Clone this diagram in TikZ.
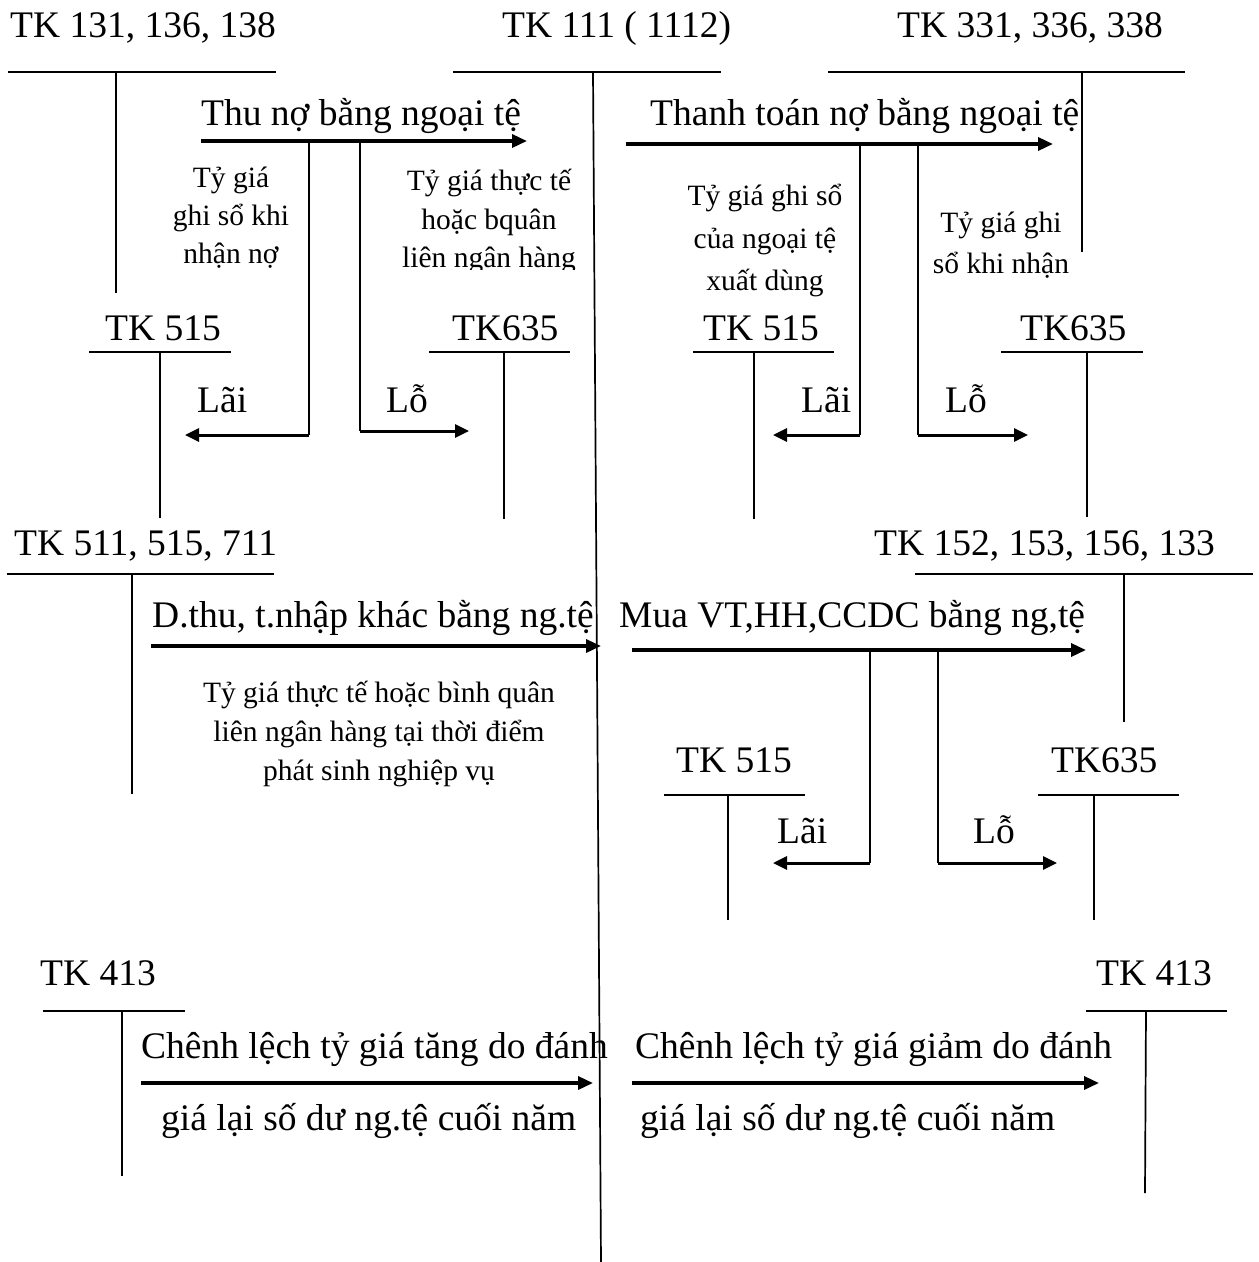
\documentclass[tikz,border=0pt]{standalone}
\usepackage{fontspec}
\setmainfont{Liberation Serif}
\usetikzlibrary{arrows.meta}
\begin{document}
\begin{tikzpicture}[x=1pt,y=-1pt,
  big/.style={font=\fontsize{37.5}{45}\selectfont, inner sep=0pt, anchor=base west},
  note/.style={font=\fontsize{29.5}{35}\selectfont, inner sep=0pt, anchor=base},
  tline/.style={line width=1.7pt},
  flow/.style={line width=3.4pt, -{Triangle[length=15pt,width=13pt]}},
  branch/.style={line width=1.9pt},
  sideflow/.style={line width=3pt, -{Triangle[length=14pt,width=13pt]}},
]
\useasboundingbox[fill=white] (0,0) rectangle (1259,1262);

% ---------- T accounts ----------
% top row
\node[big] (a1) at (10,37) {TK 131, 136, 138};
\coordinate (a1l) at (8,72); \coordinate (a1r) at (276,72);
\coordinate (a1t) at (116,72); \coordinate (a1b) at (116,293);
\draw[tline] (a1l) -- (a1r); \draw[tline] (a1t) -- (a1b);

\node[big] (a2) at (502,37) {TK 111 ( 1112)};
\coordinate (a2l) at (453,72); \coordinate (a2r) at (721,72);
\coordinate (a2t) at (593,72); \coordinate (a2b) at (601,1262);
\draw[tline] (a2l) -- (a2r); \draw[tline] (a2t) -- (a2b);

\node[big] (a3) at (897,37) {TK 331, 336, 338};
\coordinate (a3l) at (828,72); \coordinate (a3r) at (1185,72);
\coordinate (a3t) at (1082,72); \coordinate (a3b) at (1082,252);
\draw[tline] (a3l) -- (a3r); \draw[tline] (a3t) -- (a3b);

% second row
\node[big] (b1) at (105,340) {TK 515};
\coordinate (b1l) at (89,352); \coordinate (b1r) at (231,352);
\coordinate (b1t) at (160,352); \coordinate (b1b) at (160,518);
\draw[tline] (b1l) -- (b1r); \draw[tline] (b1t) -- (b1b);

\node[big] (b2) at (452,340) {TK635};
\coordinate (b2l) at (429,352); \coordinate (b2r) at (570,352);
\coordinate (b2t) at (504,352); \coordinate (b2b) at (504,519);
\draw[tline] (b2l) -- (b2r); \draw[tline] (b2t) -- (b2b);

\node[big] (b3) at (703,340) {TK 515};
\coordinate (b3l) at (693,352); \coordinate (b3r) at (834,352);
\coordinate (b3t) at (754,352); \coordinate (b3b) at (754,519);
\draw[tline] (b3l) -- (b3r); \draw[tline] (b3t) -- (b3b);

\node[big] (b4) at (1020,340) {TK635};
\coordinate (b4l) at (1001,352); \coordinate (b4r) at (1143,352);
\coordinate (b4t) at (1087,352); \coordinate (b4b) at (1087,517);
\draw[tline] (b4l) -- (b4r); \draw[tline] (b4t) -- (b4b);

% third row
\node[big] (c1) at (14,555) {TK 511, 515, 711};
\coordinate (c1l) at (7,574); \coordinate (c1r) at (274,574);
\coordinate (c1t) at (132,574); \coordinate (c1b) at (132,794);
\draw[tline] (c1l) -- (c1r); \draw[tline] (c1t) -- (c1b);

\node[big] (c2) at (874,555) {TK 152, 153, 156, 133};
\coordinate (c2l) at (915,574); \coordinate (c2r) at (1253,574);
\coordinate (c2t) at (1124,574); \coordinate (c2b) at (1124,722);
\draw[tline] (c2l) -- (c2r); \draw[tline] (c2t) -- (c2b);

% fourth row
\node[big] (d1) at (676,772) {TK 515};
\coordinate (d1l) at (664,795); \coordinate (d1r) at (805,795);
\coordinate (d1t) at (728,795); \coordinate (d1b) at (728,920);
\draw[tline] (d1l) -- (d1r); \draw[tline] (d1t) -- (d1b);

\node[big] (d2) at (1051,772) {TK635};
\coordinate (d2l) at (1038,795); \coordinate (d2r) at (1179,795);
\coordinate (d2t) at (1094,795); \coordinate (d2b) at (1094,920);
\draw[tline] (d2l) -- (d2r); \draw[tline] (d2t) -- (d2b);

% bottom row
\node[big] (e1) at (40,985) {TK 413};
\coordinate (e1l) at (43,1011); \coordinate (e1r) at (185,1011);
\coordinate (e1t) at (122,1011); \coordinate (e1b) at (122,1176);
\draw[tline] (e1l) -- (e1r); \draw[tline] (e1t) -- (e1b);

\node[big] (e2) at (1096,985) {TK 413};
\coordinate (e2l) at (1086,1011); \coordinate (e2r) at (1227,1011);
\coordinate (e2t) at (1146,1011); \coordinate (e2b) at (1145,1193);
\draw[tline] (e2l) -- (e2r); \draw[tline] (e2t) -- (e2b);

% ---------- Flow 1: Thu no ----------
\node[big] (f1) at (201,125) {Thu nợ bằng ngoại tệ};
\coordinate (f1s) at (201,141); \coordinate (f1e) at (527,141);
\draw[flow] (f1s) -- (f1e);
\coordinate (f1p) at (309,141); \coordinate (f1pc) at (309,435); \coordinate (f1pe) at (185,435);
\coordinate (f1q) at (360,141); \coordinate (f1qc) at (360,431); \coordinate (f1qe) at (469,431);
\draw[branch] (f1p) -- (f1pc); \draw[sideflow] (f1pc) -- (f1pe);
\draw[branch] (f1q) -- (f1qc); \draw[sideflow] (f1qc) -- (f1qe);
\node[note] (n1a) at (231,187) {Tỷ giá};
\node[note] (n1b) at (231,225) {ghi sổ khi};
\node[note] (n1c) at (231,263) {nhận nợ};
\begin{scope}
\clip (390,150) rectangle (590,269);
\node[note] (n2a) at (489,190) {Tỷ giá thực tế};
\node[note] (n2b) at (489,229) {hoặc bquân};
\node[note] (n2c) at (489,267) {liên ngân hàng};
\end{scope}
\node[big] (l1) at (197,412) {Lãi};
\node[big] (o1) at (386,412) {Lỗ};

% ---------- Flow 2: Thanh toan no ----------
\node[big] (f2) at (650,125) {Thanh toán nợ bằng ngoại tệ};
\coordinate (f2s) at (626,144); \coordinate (f2e) at (1053,144);
\draw[flow] (f2s) -- (f2e);
\coordinate (f2p) at (860,144); \coordinate (f2pc) at (860,435); \coordinate (f2pe) at (773,435);
\coordinate (f2q) at (918,144); \coordinate (f2qc) at (918,435); \coordinate (f2qe) at (1028,435);
\draw[branch] (f2p) -- (f2pc); \draw[sideflow] (f2pc) -- (f2pe);
\draw[branch] (f2q) -- (f2qc); \draw[sideflow] (f2qc) -- (f2qe);
\node[note] (n3a) at (765,205) {Tỷ giá ghi sổ};
\node[note] (n3b) at (765,248) {của ngoại tệ};
\node[note] (n3c) at (765,290) {xuất dùng};
\node[note] (n4a) at (1001,232) {Tỷ giá ghi};
\node[note] (n4b) at (1001,273) {sổ khi nhận};
\node[big] (l2) at (801,412) {Lãi};
\node[big] (o2) at (945,412) {Lỗ};

% ---------- Flow 3: Doanh thu ----------
\node[big] (f3) at (152,627) {D.thu, t.nhập khác bằng ng.tệ};
\coordinate (f3s) at (151,646); \coordinate (f3e) at (601,646);
\draw[flow] (f3s) -- (f3e);
\node[note] (n5a) at (379,702) {Tỷ giá thực tế hoặc bình quân};
\node[note] (n5b) at (379,741) {liên ngân hàng tại thời điểm};
\node[note] (n5c) at (379,780) {phát sinh nghiệp vụ};

% ---------- Flow 4: Mua VT ----------
\node[big] (f4) at (619,627) {Mua VT,HH,CCDC bằng ng,tệ};
\coordinate (f4s) at (632,650); \coordinate (f4e) at (1086,650);
\draw[flow] (f4s) -- (f4e);
\coordinate (f4p) at (870,650); \coordinate (f4pc) at (870,863); \coordinate (f4pe) at (773,863);
\coordinate (f4q) at (938,650); \coordinate (f4qc) at (938,863); \coordinate (f4qe) at (1057,863);
\draw[branch] (f4p) -- (f4pc); \draw[sideflow] (f4pc) -- (f4pe);
\draw[branch] (f4q) -- (f4qc); \draw[sideflow] (f4qc) -- (f4qe);
\node[big] (l3) at (777,843) {Lãi};
\node[big] (o3) at (973,843) {Lỗ};

% ---------- Flow 5 & 6: Chenh lech ----------
\node[big] (f5) at (141,1058) {Chênh lệch tỷ giá tăng do đánh};
\coordinate (f5s) at (141,1083); \coordinate (f5e) at (593,1083);
\draw[flow] (f5s) -- (f5e);
\node[big] (f5b) at (161,1130) {giá lại số dư ng.tệ cuối năm};

\node[big] (f6) at (635,1058) {Chênh lệch tỷ giá giảm do đánh};
\coordinate (f6s) at (632,1083); \coordinate (f6e) at (1099,1083);
\draw[flow] (f6s) -- (f6e);
\node[big] (f6b) at (640,1130) {giá lại số dư ng.tệ cuối năm};
\end{tikzpicture}
\end{document}
